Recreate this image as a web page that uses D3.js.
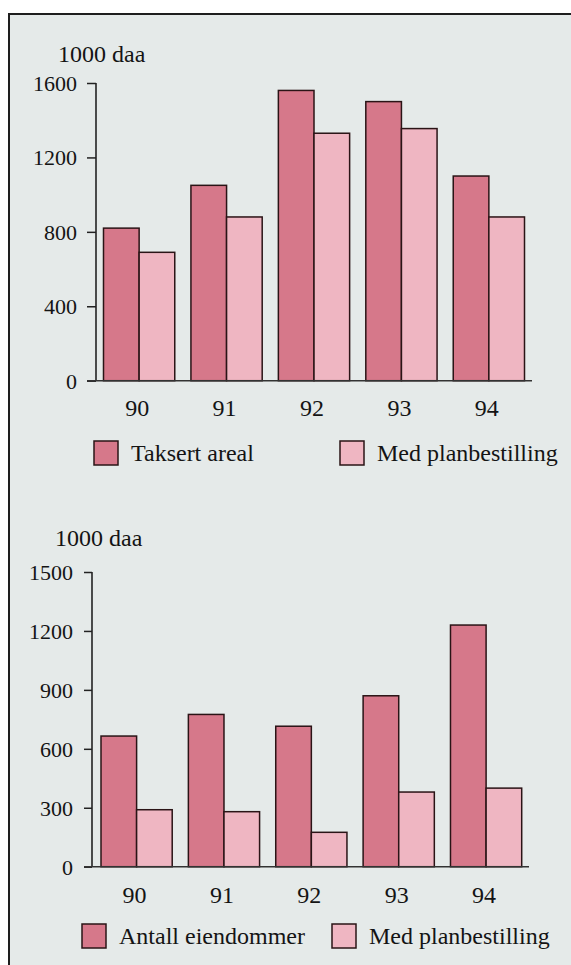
<html><head><meta charset="utf-8"><script src="https://cdn.jsdelivr.net/npm/d3@7"></script></head>
<body style="margin:0">
<svg id="chart" width="571" height="965"></svg>
<script>
// ---- Data ----
const years = ["90", "91", "92", "93", "94"];

// Chart 1: areal (1000 daa)
const taksertAreal = [820, 1050, 1560, 1500, 1100];
const arealMedPlan = [690, 880, 1330, 1355, 880];
const ticks1 = [0, 400, 800, 1200, 1600];

// Chart 2: eiendommer
const antallEiendommer = [665, 775, 715, 870, 1230];
const eiendomMedPlan = [290, 280, 175, 380, 400];
const ticks2 = [0, 300, 600, 900, 1200, 1500];

const unitLabel = "1000 daa";
const legend1 = ["Taksert areal", "Med planbestilling"];
const legend2 = ["Antall eiendommer", "Med planbestilling"];

const FONT = '"Liberation Serif", monospace';
const darkFill = "#d6788a";
const lightFill = "#efb6c2";
const strokeCol = "#2a1416";
const textCol = "#141414";

const svg = d3.select("#chart");

// Frame / background
svg.append("rect").attr("x", 0).attr("y", 0).attr("width", 571).attr("height", 965).attr("fill", "#ffffff");
svg.append("rect").attr("x", 9).attr("y", 14).attr("width", 580).attr("height", 960)
  .attr("fill", "#e5eae9").attr("stroke", "#1e1e1e").attr("stroke-width", 2);

function styleText(sel, size) {
  sel.style("font-family", FONT).attr("font-size", size).attr("fill", textCol);
}

function drawChart(cfg) {
  const g = svg.append("g");
  const y = d3.scaleLinear().domain([0, cfg.max]).range([cfg.y0, cfg.y1]);
  const x = d3.scaleBand().domain(years).range([cfg.xStart, cfg.xEnd]).paddingInner(0.185).paddingOuter(0);
  const xs = d3.scaleBand().domain([0, 1]).range([0, x.bandwidth()]);

  // Y axis
  const yAxis = d3.axisLeft(y).tickValues(cfg.ticks).tickSize(cfg.tickSize).tickPadding(cfg.tickPad).tickFormat(d3.format("d"));
  const ga = g.append("g").attr("transform", `translate(${cfg.axisX},0)`).call(yAxis);
  ga.attr("font-family", null).attr("font-size", null);
  ga.select(".domain").attr("stroke", "#222").attr("stroke-width", 1.6).attr("d", `M0,${cfg.y0}V${cfg.y1}`);
  ga.selectAll(".tick line").attr("stroke", "#222").attr("stroke-width", 1.5);
  ga.selectAll(".tick text").call(styleText, 22).attr("dy", "0.34em");

  // unit label
  g.append("text").attr("x", cfg.titleX).attr("y", cfg.titleY).call(styleText, 24).text(unitLabel);

  // bars
  const series = [cfg.a, cfg.b];
  const fills = [darkFill, lightFill];
  series.forEach((vals, si) => {
    g.selectAll(null).data(vals).enter().append("rect")
      .attr("x", (d, i) => x(years[i]) + xs(si))
      .attr("y", d => y(d))
      .attr("width", xs.bandwidth())
      .attr("height", d => y(0) - y(d))
      .attr("fill", fills[si])
      .attr("stroke", strokeCol)
      .attr("stroke-width", 1.5);
  });

  // baseline
  g.append("line").attr("x1", cfg.axisX - cfg.tickSize).attr("x2", cfg.baseEnd)
    .attr("y1", y(0)).attr("y2", y(0)).attr("stroke", "#333").attr("stroke-width", 1.6);

  // x labels
  const xAxis = d3.axisBottom(x).tickSize(0).tickPadding(0);
  const gx = g.append("g").attr("transform", `translate(0,${cfg.labelY})`).call(xAxis);
  gx.attr("font-family", null).attr("font-size", null);
  gx.select(".domain").remove();
  gx.selectAll(".tick text").call(styleText, 24).attr("dy", 0).attr("y", 0).attr("dx", -2);

  // legend
  cfg.legend.forEach((lab, i) => {
    const lx = cfg.legendX[i];
    g.append("rect").attr("x", lx).attr("y", cfg.legendY - 20).attr("width", 24).attr("height", 24)
      .attr("fill", fills[i]).attr("stroke", strokeCol).attr("stroke-width", 1.5);
    g.append("text").attr("x", lx + 37).attr("y", cfg.legendY).call(styleText, 24).text(lab);
  });
}

drawChart({
  max: 1600, ticks: ticks1, y0: 380.7, y1: 83, axisX: 96,
  tickSize: 9, tickPad: 10,
  xStart: 103.5, xEnd: 524.5, baseEnd: 532,
  a: taksertAreal, b: arealMedPlan,
  titleX: 58, titleY: 62,
  labelY: 416,
  legend: legend1, legendX: [94, 340], legendY: 461
});

drawChart({
  max: 1500, ticks: ticks2, y0: 866.7, y1: 572, axisX: 92,
  tickSize: 8, tickPad: 11,
  xStart: 101, xEnd: 521.7, baseEnd: 529,
  a: antallEiendommer, b: eiendomMedPlan,
  titleX: 55, titleY: 546,
  labelY: 903,
  legend: legend2, legendX: [82, 332], legendY: 944
});
</script>
</body>
</html>
